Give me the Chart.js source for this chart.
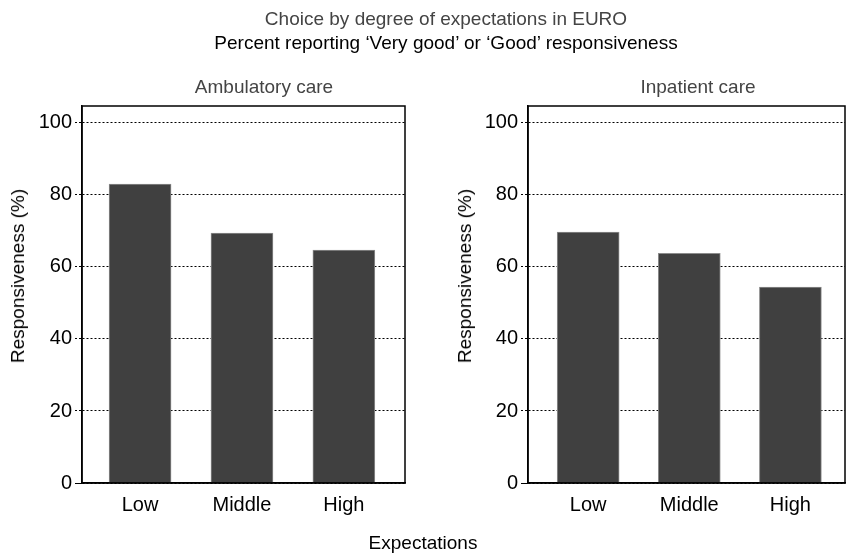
<!DOCTYPE html>
<html>
<head>
<meta charset="utf-8">
<script src="https://cdn.jsdelivr.net/npm/chart.js@4"></script>
<style>
  body { margin: 0; background: #fff; }
  #wrap { position: relative; width: 846px; height: 555px; font-family: "Liberation Sans", Arial, sans-serif; }
  canvas { position: absolute; left: 0; top: 0; }
  .txt { position: absolute; transform: translate(-50%, -50%); white-space: nowrap; font-size: 19px; color: #000; }
  .grey { color: #444; }
  .rot { transform: translate(-50%, -50%) rotate(-90deg); }
</style>
</head>
<body>
<div id="wrap">
  <canvas id="left" width="846" height="555"></canvas>
  <canvas id="right" width="846" height="555"></canvas>
  <div class="txt grey" style="left:446px; top:19px;">Choice by degree of expectations in EURO</div>
  <div class="txt" style="left:446px; top:43px;">Percent reporting ‘Very good’ or ‘Good’ responsiveness</div>
  <div class="txt grey" style="left:264px; top:87px;">Ambulatory care</div>
  <div class="txt grey" style="left:698px; top:87px;">Inpatient care</div>
  <div class="txt rot" style="left:18px; top:276px;">Responsiveness (%)</div>
  <div class="txt rot" style="left:465px; top:276px;">Responsiveness (%)</div>
  <div class="txt" style="left:423px; top:543px;">Expectations</div>
</div>
<script>
// categories and values
const categories = ['Low', 'Middle', 'High'];
const ambulatory = [83, 69.4, 64.7];
const inpatient = [69.7, 63.8, 54.4];
const yTicks = [0, 20, 40, 60, 80, 100];

// draw the frame around each plot
const framePlugin = {
    id: 'frame',
    afterDraw(chart) {
        const a = chart.chartArea;
        const c = chart.ctx;
        c.save();
        c.strokeStyle = '#000';
        c.lineWidth = 1.5;
        c.strokeRect(a.left, a.top, a.right - a.left, a.bottom - a.top);
        c.restore();
    }
};

function makeChart(id, values, padLeft, padRight, xMin, xMax) {
    const ctx = document.getElementById(id).getContext('2d');
    return new Chart(ctx, {
        type: 'bar',
        data: {
            datasets: [{
                data: categories.map((c, i) => ({ x: i, y: values[i] })),
                backgroundColor: '#404040',
                borderColor: '#8c8c8c',
                borderWidth: 1,
                barThickness: 62
            }]
        },
        options: {
            responsive: false,
            animation: false,
            layout: { padding: { left: padLeft, right: padRight, top: 106, bottom: 0 } },
            plugins: { legend: { display: false }, tooltip: { enabled: false } },
            scales: {
                x: {
                    type: 'linear',
                    min: xMin,
                    max: xMax,
                    offset: false,
                    afterFit(s) { s.height = 72; },
                    grid: { display: false, drawTicks: false, offset: false },
                    border: { display: true, color: '#000', width: 1.5 },
                    ticks: {
                        stepSize: 1,
                        includeBounds: false,
                        padding: 10,
                        color: '#000',
                        font: { family: 'Liberation Sans', size: 20 },
                        callback: v => categories[v] !== undefined ? categories[v] : ''
                    }
                },
                y: {
                    min: 0,
                    max: 104.7,
                    afterFit(s) { s.width = 82; },
                    afterBuildTicks(s) { s.ticks = yTicks.map(v => ({ value: v })); },
                    grid: {
                        color: '#000',
                        lineWidth: 1,
                        tickLength: 7,
                        tickBorderDash: ctx => ctx.tick && ctx.tick.value === 0 ? [] : [2, 2]
                    },
                    border: { display: true, color: '#000', width: 1.5, dash: [2, 2] },
                    ticks: {
                        padding: 3,
                        color: '#000',
                        font: { family: 'Liberation Sans', size: 20 }
                    }
                }
            }
        },
        plugins: [framePlugin]
    });
}

makeChart('left', ambulatory, 0, 441, -0.57, 2.6);
makeChart('right', inpatient, 446, 1, -0.595, 2.54);
</script>
</body>
</html>
